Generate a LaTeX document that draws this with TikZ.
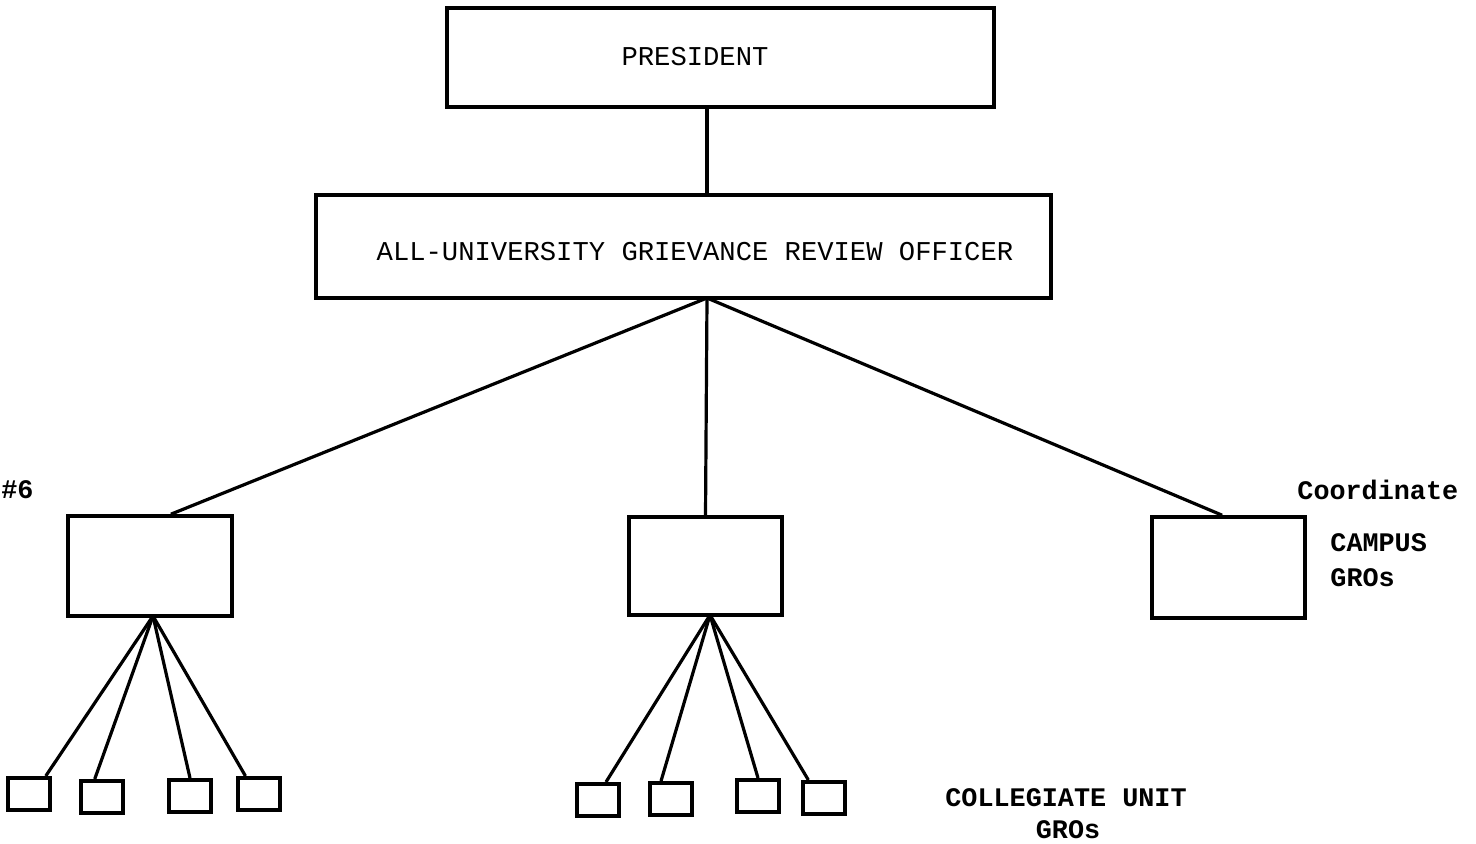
\documentclass[tikz,border=0pt]{standalone}
\usepackage{fontspec}
\setmonofont{Liberation Mono}
\begin{document}
\begin{tikzpicture}[x=0.5pt,y=-0.5pt,
  bigbox/.style={draw,line width=1.8pt,rectangle,inner sep=0pt},
  smallbox/.style={draw,line width=2pt,rectangle,inner sep=0pt,minimum width=21pt,minimum height=16pt},
  link/.style={line width=1.6pt},
  boxtext/.style={font=\ttfamily\fontsize{13.6}{16}\selectfont,inner sep=0pt},
  labeltext/.style={font=\ttfamily\bfseries\fontsize{13.4}{16}\selectfont,inner sep=0pt}]
\useasboundingbox (0,0) rectangle (1476,844);
% main boxes
\node[bigbox,minimum width=273.5pt,minimum height=49.5pt] (pres) at (720.5,57.5) {};
\node[boxtext] (prestxt) at (695,57) {PRESIDENT};
\node[bigbox,minimum width=367.5pt,minimum height=51.5pt] (aug) at (683.5,246.5) {};
\node[boxtext] (augtxt) at (695,252) {ALL-UNIVERSITY GRIEVANCE REVIEW OFFICER};
\coordinate (apex) at (707,298);
% campus boxes
\node[bigbox,minimum width=82pt,minimum height=50pt] (lbox) at (150,566) {};
\node[bigbox,minimum width=76.5pt,minimum height=49pt] (mbox) at (705.5,566) {};
\node[bigbox,minimum width=76.5pt,minimum height=50.5pt] (rbox) at (1228.5,567.5) {};
% small boxes left
\node[smallbox] (l1) at (29,794) {};
\node[smallbox] (l2) at (102,797) {};
\node[smallbox] (l3) at (190,796) {};
\node[smallbox] (l4) at (259,794) {};
% small boxes middle
\node[smallbox] (m1) at (598,800) {};
\node[smallbox] (m2) at (671,799) {};
\node[smallbox] (m3) at (758,796) {};
\node[smallbox] (m4) at (824,798) {};
\coordinate (lfan) at (153,616);
\coordinate (mfan) at (710,615);
% connectors
\draw[link] (pres.south -| apex) -- (aug.north -| apex);
\draw[link] (apex) -- (lbox.68);
\draw[link] (apex) -- (mbox.north);
\draw[link] (apex) -- (rbox.97);
\draw[link] (lfan) -- (l1.47);
\draw[link] (lfan) -- (l2.112);
\draw[link] (lfan) -- (l3.north);
\draw[link] (lfan) -- (l4.127);
\draw[link] (mfan) -- (m1.66);
\draw[link] (mfan) -- (m2.119);
\draw[link] (mfan) -- (m3.north);
\draw[link] (mfan) -- (m4.131);
% labels
\node[labeltext,anchor=west] (num) at (1,490) {\#6};
\node[labeltext,anchor=west] (coord) at (1297,490) {Coordinate};
\node[labeltext,anchor=west] (campus) at (1330,543) {CAMPUS};
\node[labeltext,anchor=west] (cgros) at (1330,578) {GROs};
\node[labeltext,anchor=west] (coll) at (945,798) {COLLEGIATE UNIT};
\node[labeltext] (ugros) at (1068,830) {GROs};
\end{tikzpicture}
\end{document}
